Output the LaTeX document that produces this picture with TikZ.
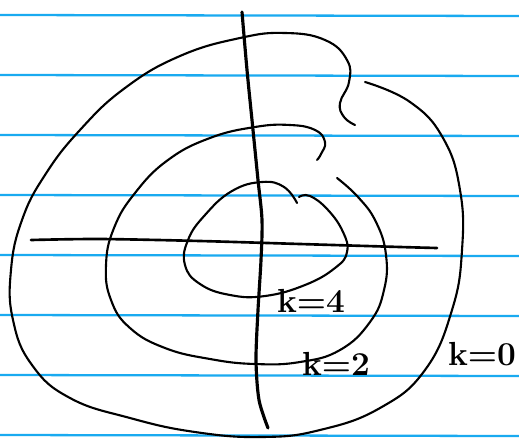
\documentclass[tikz,border=0pt]{standalone}
\usepackage{tikz}
\usetikzlibrary{positioning}
\definecolor{ruleblue}{RGB}{25,170,240}

\begin{document}
\begin{tikzpicture}[
    x=0.02cm, y=-0.02cm,
    ruling/.style={ruleblue, line width=1.3pt},
    level/.style={line width=1.2pt, line cap=round, smooth, tension=0.75},
    axis/.style={line width=1.5pt, line cap=round, smooth, tension=0.5},
    klabel/.style={font=\fontsize{19}{22}\selectfont\bfseries, inner sep=0pt},
  ]

  \useasboundingbox[fill=white] (0,0) rectangle (519,439);

  % ruled paper
  \foreach \y in {15,75,...,435}
    \draw[ruling] (0,\y) -- (519,\y+1);

  % level curve k=0
  \draw[level] plot coordinates {(365,82) (410,102) (443,138) (460,190)
    (462,250) (452,310) (425,370) (380,408) (320,430) (262,437) (195,432)
    (130,418) (70,398) (32,365) (13,320) (11,270) (22,220) (45,175) (80,130)
    (125,88) (180,56) (240,38) (285,33) (325,40) (347,60) (349,82) (340,103)
    (344,117) (355,125)};

  % level curve k=2
  \draw[level] plot coordinates {(337,178) (358,197) (376,222) (386,255)
    (384,290) (370,322) (340,350) (300,362) (255,364) (210,359) (165,348)
    (130,328) (111,300) (106,265) (114,228) (135,193) (168,160) (210,138)
    (255,127) (290,125) (315,130) (325,142) (321,154) (317,160)};

  % level curve k=4
  \draw[level] plot coordinates {(299,197) (310,196) (328,210) (343,232)
    (347,252) (335,268) (305,285) (265,296) (230,295) (200,284) (185,265)
    (188,240) (205,215) (232,191) (262,182) (284,187) (297,203)};

  % axes
  \draw[axis] plot coordinates {(31,240) (100,239) (200,241) (300,244)
    (400,247) (437,248)};
  \draw[axis, line width=1.8pt] plot coordinates {(242,12) (247,70) (253,130)
    (258,180) (262,220) (261,260) (258,310) (256,360) (259,400) (268,428)};

  \node[klabel] (k4) at (311,301) {k=4};
  \node[klabel] (k2) at (336,364) {k=2};
  \node[klabel] (k0) at (482,354) {k=0};

\end{tikzpicture}
\end{document}
